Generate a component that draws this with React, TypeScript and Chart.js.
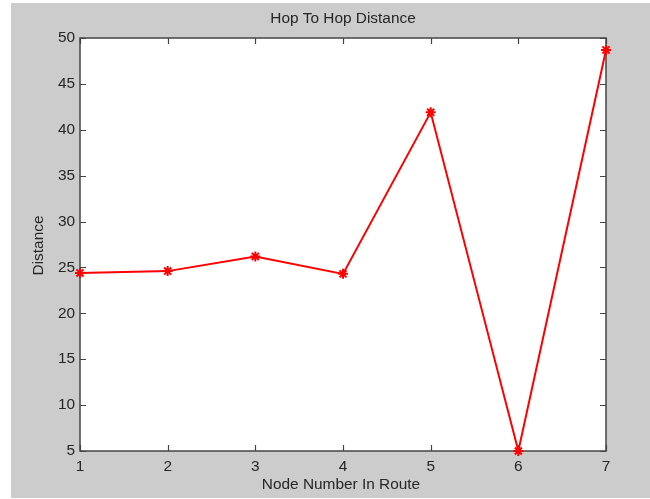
import React, { useEffect, useRef } from "react";
import { Chart, registerables } from "chart.js";

Chart.register(...registerables);

const chartTitle = "Hop To Hop Distance";
const xTitle = "Node Number In Route";
const yTitle = "Distance";
const nodeNumbers = [1, 2, 3, 4, 5, 6, 7];
const distances = [24.4, 24.6, 26.2, 24.3, 41.9, 5.0, 48.7];
const xTickValues = [1, 2, 3, 4, 5, 6, 7];
const yTickValues = [5, 10, 15, 20, 25, 30, 35, 40, 45, 50];

const FONT = "'Liberation Sans', Arial, sans-serif";
const TEXT = "#262626";
const AXIS = "#444444";

const framePlugin = {
  id: "matlabFrame",
  beforeDraw(chart: any) {
    const ctx = chart.ctx;
    const { left, top, right, bottom } = chart.chartArea;
    ctx.save();
    ctx.fillStyle = "#ffffff";
    ctx.fillRect(0, 0, chart.width, chart.height);
    ctx.fillStyle = "#cccccc";
    ctx.fillRect(11, 3, chart.width - 11, chart.height - 4);
    ctx.fillStyle = "#ffffff";
    ctx.fillRect(left, top, right - left, bottom - top);
    ctx.restore();
  },
  beforeDatasetsDraw(chart: any) {
    const ctx = chart.ctx;
    const { left, top, right, bottom } = chart.chartArea;
    const xs = chart.scales.x;
    const ys = chart.scales.y;
    ctx.save();
    ctx.strokeStyle = AXIS;
    ctx.lineWidth = 1.5;
    ctx.strokeRect(left, top, right - left, bottom - top);
    ctx.lineWidth = 1.2;
    const tl = 6;
    ctx.beginPath();
    xTickValues.forEach((v) => {
      const px = Math.round(xs.getPixelForValue(v)) + 0.5;
      ctx.moveTo(px, bottom);
      ctx.lineTo(px, bottom - tl);
      ctx.moveTo(px, top);
      ctx.lineTo(px, top + tl);
    });
    yTickValues.forEach((v) => {
      const py = Math.round(ys.getPixelForValue(v)) + 0.5;
      ctx.moveTo(left, py);
      ctx.lineTo(left + tl, py);
      ctx.moveTo(right, py);
      ctx.lineTo(right - tl, py);
    });
    ctx.stroke();
    ctx.restore();
  },
  afterDraw(chart: any) {
    const ctx = chart.ctx;
    const { left, top, right, bottom } = chart.chartArea;
    const cx = (left + right) / 2;
    ctx.save();
    ctx.fillStyle = TEXT;
    ctx.font = `15.4px ${FONT}`;
    ctx.textAlign = "center";
    ctx.textBaseline = "middle";
    ctx.fillText(chartTitle, cx, 19);
    ctx.fillText(xTitle, cx - 2, 485);
    ctx.translate(39, (top + bottom) / 2 + 1);
    ctx.rotate(-Math.PI / 2);
    ctx.fillText(yTitle, 0, 0);
    ctx.restore();
  },
};

export default function App() {
  const canvasRef = useRef<HTMLCanvasElement | null>(null);

  useEffect(() => {
    if (!canvasRef.current) return;
    const chart = new Chart(canvasRef.current, {
      type: "line",
      data: {
        datasets: [
          {
            label: yTitle,
            data: nodeNumbers.map((n, i) => ({ x: n, y: distances[i] })),
            borderColor: "#ff0000",
            backgroundColor: "#ff0000",
            borderWidth: 2,
            pointStyle: "star",
            pointRadius: 5,
            pointBorderWidth: 2,
            pointBorderColor: "#ff0000",
            pointBackgroundColor: "#ff0000",
            tension: 0,
            clip: false,
          } as any,
        ],
      },
      options: {
        animation: false,
        responsive: false,
        devicePixelRatio: 1,
        layout: { padding: { top: 38, right: 44, left: 0, bottom: 0 } },
        plugins: {
          legend: { display: false },
          title: { display: false },
          tooltip: { enabled: false },
        },
        scales: {
          x: {
            type: "linear",
            min: 1,
            max: 7,
            grid: { display: false, drawTicks: false },
            border: { display: false },
            afterBuildTicks: (scale: any) => {
              scale.ticks = xTickValues.map((v) => ({ value: v }));
            },
            afterFit: (scale: any) => {
              scale.height = 48;
            },
            ticks: {
              padding: 7,
              color: TEXT,
              font: { family: FONT, size: 15.4 },
              maxRotation: 0,
            },
          },
          y: {
            type: "linear",
            min: 5,
            max: 50,
            grid: { display: false, drawTicks: false },
            border: { display: false },
            afterBuildTicks: (scale: any) => {
              scale.ticks = yTickValues.map((v) => ({ value: v }));
            },
            afterFit: (scale: any) => {
              scale.width = 80;
            },
            ticks: {
              padding: 5,
              color: TEXT,
              font: { family: FONT, size: 15.4 },
            },
          },
        },
      },
      plugins: [framePlugin],
    });
    return () => chart.destroy();
  }, []);

  return (
    <div style={{ position: "absolute", left: 0, top: 0, width: 650, height: 499 }}>
      <canvas ref={canvasRef} width={650} height={499} style={{ display: "block" }} />
    </div>
  );
}
